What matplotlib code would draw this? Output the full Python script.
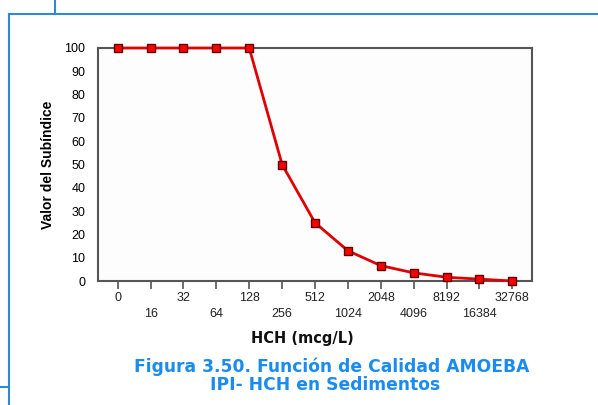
import matplotlib
matplotlib.use("Agg")
import matplotlib.pyplot as plt
from matplotlib.lines import Line2D

categories = ["0", "16", "32", "64", "128", "256", "512", "1024", "2048",
              "4096", "8192", "16384", "32768"]
values = [100, 100, 100, 100, 100, 50, 25, 13, 6.6, 3.5, 1.6, 0.8, 0]
yticks = [0, 10, 20, 30, 40, 50, 60, 70, 80, 90, 100]

W, H = 598, 405
fig = plt.figure(figsize=(W / 100, H / 100), dpi=100)
fig.patch.set_facecolor("white")

def px(x0, y0, x1, y1):
    return [x0 / W, 1 - y1 / H, (x1 - x0) / W, (y1 - y0) / H]

ax = fig.add_axes(px(98, 48, 532, 281))
ax.set_facecolor("#fdfdfd")
xs = list(range(len(categories)))
ax.plot(xs, values, color="#e00000", lw=2, marker="s", ms=5.5,
        markerfacecolor="#ff0000", markeredgecolor="#600000", mew=1,
        clip_on=False, zorder=3)
ax.set_xlim(-0.6, 12.6)
ax.set_ylim(0, 100)
ax.set_yticks(yticks)
ax.set_yticklabels([str(v) for v in yticks], fontsize=9, family="Liberation Sans")
ax.tick_params(axis="y", length=0, pad=9)
ax.set_xticks(xs)
ax.set_xticklabels([])
ax.tick_params(axis="x", length=6, width=1.2, color="#555555", direction="out")
for i, lab in enumerate(categories):
    yoff = -0.075 if i % 2 == 0 else -0.14
    ax.text(i, yoff, lab, transform=ax.get_xaxis_transform(), ha="center",
            va="center", fontsize=9, family="Liberation Sans", color="#222222")
for s in ax.spines.values():
    s.set_color("#555555")
    s.set_linewidth(1.5)

fig.text(48 / W, 1 - 165 / H, "Valor del Subíndice", rotation=90, ha="center",
         va="center", fontsize=10, fontweight="bold", family="Liberation Sans")
fig.text(302 / W, 1 - 339 / H, "HCH (mcg/L)", ha="center", va="center",
         fontsize=10.5, fontweight="bold", family="DejaVu Sans", color="#111111")
fig.text(332 / W, 1 - 367 / H, "Figura 3.50. Función de Calidad AMOEBA",
         ha="center", va="center", fontsize=12.3, fontweight="bold",
         family="DejaVu Sans", color="#1a8cf0")
fig.text(325 / W, 1 - 385 / H, "IPI- HCH en Sedimentos",
         ha="center", va="center", fontsize=12.3, fontweight="bold",
         family="DejaVu Sans", color="#1a8cf0")

blue = "#2a8ad2"
def fl(x0, y0, x1, y1):
    fig.add_artist(Line2D([x0 / W, x1 / W], [1 - y0 / H, 1 - y1 / H],
                          color=blue, lw=1.5, transform=fig.transFigure))
fl(9, 13.5, 598, 13.5)
fl(55, 0, 55, 13.5)
fl(9, 13.5, 9, 405)
fl(0, 387, 9, 387)

fig.savefig("out.png", dpi=100)
